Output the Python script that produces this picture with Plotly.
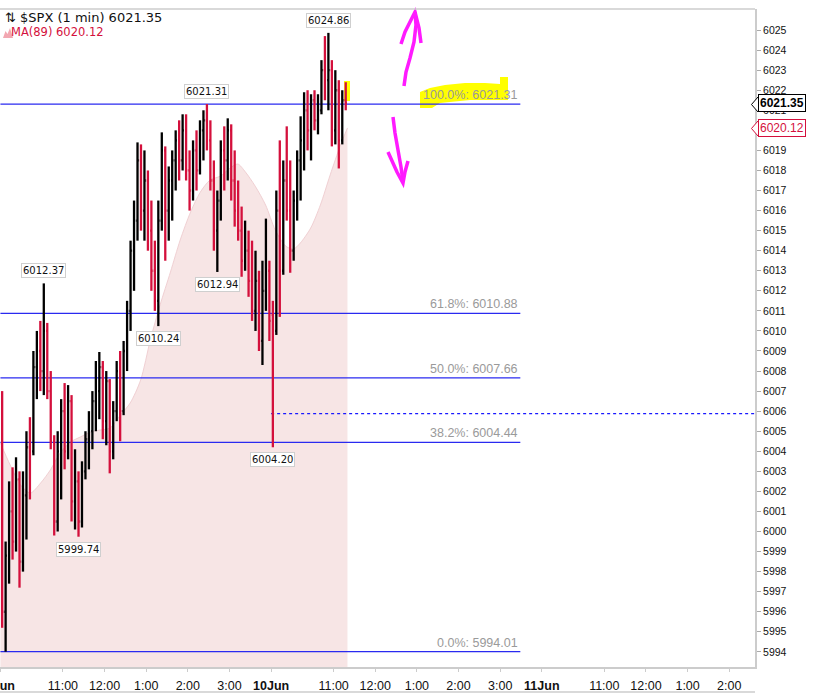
import plotly.graph_objects as go

# ---------------- data (5-minute OHLC) ----------------
# minute index counts trading minutes from 9 Jun 09:30 (390 per session)
bar_minutes = [5 * k + 2.5 for k in range(100)]
opens = [6004.6, 5996.0, 5998.8, 6001.0, 5999.5, 6002.6, 5998.5, 6001.8, 6004.2, 6004.0,
         6008.2, 6009.0, 6008.0, 6010.0, 6007.0, 6004.5, 6000.5, 6004.0, 6006.0, 6004.0,
         6006.5, 6001.5, 6002.5, 6000.5, 6003.0, 6004.6, 6005.0, 6006.5, 6007.0, 6008.2,
         6005.5, 6007.5, 6004.0, 6006.0, 6008.0, 6006.0, 6009.0, 6011.0, 6014.0, 6015.5,
         6018.5, 6016.0, 6017.5, 6015.0, 6013.0, 6011.5, 6015.5, 6019.0, 6016.0, 6017.5,
         6018.5, 6019.5, 6018.5, 6020.0, 6018.0, 6017.0, 6019.0, 6018.0, 6020.0, 6020.5,
         6019.5, 6017.5, 6015.0, 6016.5, 6019.0, 6018.5, 6020.0, 6017.5, 6016.0, 6015.0,
         6013.5, 6014.0, 6012.5, 6011.0, 6012.5, 6009.5, 6012.0, 6013.0, 6010.8, 6010.0,
         6016.0, 6013.0, 6017.5, 6016.0, 6014.0, 6016.5, 6018.5, 6019.5, 6021.0, 6020.0,
         6021.5, 6020.5, 6021.0, 6023.0, 6022.5, 6023.0, 6020.0, 6022.0, 6019.5, 6021.5]
highs = [6007.0, 5999.5, 6002.5, 6003.2, 6003.7, 6003.0, 6003.0, 6005.0, 6005.7, 6009.0,
         6010.0, 6010.5, 6012.37, 6010.4, 6008.0, 6004.8, 6005.0, 6006.6, 6007.4, 6007.3,
         6006.8, 6004.1, 6003.0, 6003.5, 6005.0, 6006.0, 6007.0, 6008.5, 6008.95, 6008.5,
         6008.0, 6007.6, 6006.5, 6008.5, 6009.0, 6009.5, 6011.5, 6014.5, 6016.5, 6019.4,
         6019.3, 6019.0, 6018.0, 6016.5, 6014.5, 6016.5, 6019.9, 6019.2, 6018.2, 6019.0,
         6020.0, 6020.5, 6020.8, 6020.8, 6019.0, 6019.5, 6020.0, 6020.5, 6021.0, 6021.31,
         6020.5, 6018.5, 6017.0, 6019.5, 6020.2, 6020.6, 6020.3, 6019.0, 6017.5, 6016.2,
         6015.5, 6015.0, 6014.5, 6014.0, 6013.0, 6013.5, 6015.6, 6013.5, 6011.5, 6017.0,
         6019.5, 6018.5, 6020.2, 6018.5, 6017.0, 6019.0, 6020.7, 6021.9, 6022.0, 6021.8,
         6022.0, 6021.8, 6023.5, 6024.7, 6024.86, 6023.5, 6023.0, 6022.5, 6022.0, 6022.4]
lows = [5995.2, 5994.01, 5997.4, 5998.6, 5999.0, 5997.2, 5998.0, 5999.6, 6001.6, 6003.8,
        6006.6, 6007.0, 6006.8, 6006.6, 6004.1, 5999.8, 6000.0, 6001.6, 6003.1, 6003.6,
        6000.5, 6000.1, 5999.74, 6000.2, 6002.6, 6003.1, 6004.1, 6005.0, 6005.6, 6004.6,
        6004.3, 6002.9, 6003.6, 6005.5, 6004.5, 6005.8, 6008.0, 6010.0, 6012.0, 6014.5,
        6015.0, 6014.5, 6014.0, 6012.0, 6011.0, 6010.24, 6015.0, 6013.5, 6014.5, 6015.5,
        6017.0, 6017.5, 6018.0, 6017.5, 6016.0, 6016.5, 6017.0, 6017.8, 6018.5, 6019.0,
        6017.0, 6014.0, 6012.94, 6015.5, 6017.0, 6017.5, 6016.5, 6015.2, 6014.5, 6012.7,
        6013.0, 6011.7, 6010.5, 6010.0, 6009.0, 6008.3, 6011.0, 6009.5, 6004.20, 6009.8,
        6010.7, 6012.8, 6015.5, 6012.9, 6013.5, 6015.5, 6016.5, 6018.0, 6019.0, 6018.5,
        6020.0, 6019.8, 6020.8, 6021.5, 6021.0, 6019.2, 6019.3, 6018.1, 6019.3, 6021.0]
closes = [5996.0, 5998.8, 6001.0, 5999.5, 6002.6, 5998.5, 6001.8, 6004.2, 6004.0, 6008.2,
          6009.0, 6008.0, 6010.0, 6007.0, 6004.5, 6000.5, 6004.0, 6006.0, 6004.0, 6006.5,
          6001.5, 6002.5, 6000.5, 6003.0, 6004.6, 6005.0, 6006.5, 6007.0, 6008.2, 6005.5,
          6007.5, 6004.0, 6006.0, 6008.0, 6006.0, 6009.0, 6011.0, 6014.0, 6015.5, 6018.5,
          6016.0, 6017.5, 6015.0, 6013.0, 6011.5, 6015.5, 6019.0, 6016.0, 6017.5, 6018.5,
          6019.5, 6018.5, 6020.0, 6018.0, 6017.0, 6019.0, 6018.0, 6020.0, 6020.5, 6019.5,
          6017.5, 6015.0, 6016.5, 6019.0, 6018.5, 6020.0, 6017.5, 6016.0, 6015.0, 6013.5,
          6014.0, 6012.5, 6011.0, 6012.5, 6009.5, 6012.0, 6013.0, 6010.5, 6010.0, 6016.0,
          6013.0, 6017.5, 6016.0, 6014.0, 6016.5, 6018.5, 6019.5, 6021.0, 6020.0, 6021.5,
          6020.5, 6021.0, 6023.0, 6022.5, 6023.0, 6020.0, 6022.0, 6019.5, 6021.5, 6021.35]

# MA(89)
ma_minutes = [0, 14, 29, 43, 58, 72, 86, 101, 115, 130, 144, 158, 173, 187, 202, 216, 230,
              245, 259, 274, 288, 302, 317, 331, 342, 353, 367, 382, 396, 411, 422, 432,
              447, 461, 475, 490, 500]
ma_values = [6004.41, 6003.32, 6002.32, 6001.92, 6002.42, 6003.07, 6003.91, 6004.46, 6004.71,
             6004.96, 6005.06, 6005.16, 6005.81, 6006.41, 6007.55, 6009.55, 6011.29, 6012.94,
             6014.53, 6015.93, 6016.92, 6017.52, 6017.72, 6018.12, 6018.32, 6017.92, 6017.22,
             6016.28, 6015.03, 6014.23, 6014.08, 6014.38, 6015.13, 6016.28, 6017.77, 6019.27,
             6020.12]

fib_labels = ["0.0%", "38.2%", "50.0%", "61.8%", "100.0%"]
fib_values = [5994.01, 6004.44, 6007.66, 6010.88, 6021.31]
prev_close = 6005.88
last_price = 6021.35
ma_last = 6020.12

callout_highs = [6012.37, 6021.31, 6024.86]
callout_lows = [5999.74, 6010.24, 6012.94, 6004.20]

tick_vals = [0, 90, 150, 210, 270, 330, 390, 480, 540, 600, 660, 720, 780, 870, 930, 990, 1050]
tick_text = ["<b>9Jun</b>", "11:00", "12:00", "1:00", "2:00", "3:00", "<b>10Jun</b>",
             "11:00", "12:00", "1:00", "2:00", "3:00", "<b>11Jun</b>",
             "11:00", "12:00", "1:00", "2:00"]
y_ticks = list(range(5994, 6026))

# ---------------- figure ----------------
X_RANGE = [-0.6, 1087.1]
Y_RANGE = [5993.245, 6026.05]
FIB_END = 749
TICK_HALF = 1.6          # OHLC open/close tick length in minutes
PLOT_W, PLOT_B, PLOT_H = 755, 667, 658
UP, DOWN = "#000000", "#d4103c"


def PX(x):
    return x / PLOT_W


def PY(y):
    return (PLOT_B - y) / PLOT_H


def path(pts, close=False):
    s = "M " + " L ".join(f"{PX(x):.5f},{PY(y):.5f}" for x, y in pts)
    return s + (" Z" if close else "")


fig = go.Figure()

# MA(89) shaded area
fig.add_trace(go.Scatter(x=ma_minutes, y=ma_values, mode="lines", fill="tozeroy",
                         fillcolor="#f7e5e5",
                         line=dict(color="#f0d0d3", width=1, shape="spline", smoothing=0.8),
                         hoverinfo="skip", showlegend=False))

# Fibonacci lines
for lab, v in zip(fib_labels, fib_values):
    fig.add_trace(go.Scatter(x=[0, FIB_END], y=[v, v], mode="lines",
                             line=dict(color="#2a2af0", width=1.3),
                             hoverinfo="skip", showlegend=False))
# previous close dashed
fig.add_trace(go.Scatter(x=[390, X_RANGE[1]], y=[prev_close, prev_close], mode="lines",
                         line=dict(color="#1a1aff", width=1.2, dash="3px,3px"),
                         hoverinfo="skip", showlegend=False))

# price bars (OHLC drawn as line segments so they sit above the shaded MA)
for want_up, col in ((True, UP), (False, DOWN)):
    xs, ys = [], []
    for t, o, h, l, c in zip(bar_minutes, opens, highs, lows, closes):
        if (c >= o) != want_up:
            continue
        xs += [t, t, None, t - TICK_HALF, t, None, t, t + TICK_HALF, None]
        ys += [l, h, None, o, o, None, c, c, None]
    fig.add_trace(go.Scatter(x=xs, y=ys, mode="lines", line=dict(color=col, width=2.3),
                             connectgaps=False, hoverinfo="skip", showlegend=False))

ann = []
# fib labels
for lab, v in zip(fib_labels, fib_values):
    ann.append(dict(x=FIB_END, y=v, xref="x", yref="y", text=f"{lab}: {v:.2f}",
                    showarrow=False, xanchor="right", yanchor="bottom", yshift=0,
                    font=dict(family="Liberation Sans", size=12.5, color="#9a9a9a")))

# callouts
box = dict(showarrow=False, bgcolor="white", bordercolor="#cfcfcf", borderwidth=1, borderpad=1,
           font=dict(family="DejaVu Sans", size=10, color="#111"))
for v in callout_highs:
    k = highs.index(v)
    ann.append(dict(x=bar_minutes[k], y=v, xref="x", yref="y", text=f"{v:.2f}",
                    yanchor="bottom", yshift=5, **box))
for v in callout_lows:
    k = lows.index(v)
    ann.append(dict(x=bar_minutes[k], y=v, xref="x", yref="y", text=f"{v:.2f}",
                    yanchor="top", yshift=-5, **box))

# legend text
ann.append(dict(x=PX(3), y=PY(17), xref="paper", yref="paper", xanchor="left", yanchor="middle",
                text=f"⇅ $SPX (1 min) {last_price:.2f}", showarrow=False,
                font=dict(family="DejaVu Sans", size=13, color="#111")))
ann.append(dict(x=PX(9), y=PY(32.5), xref="paper", yref="paper", xanchor="left",
                yanchor="middle", text=f"MA(89) {ma_last:.2f}", showarrow=False,
                font=dict(family="DejaVu Sans", size=11.5, color=DOWN)))

# right-axis price tags
ann.append(dict(x=1, y=last_price, xref="paper", yref="y", xanchor="left", xshift=3,
                text=f"<b>{last_price:.2f}</b>", showarrow=False, bgcolor="white",
                bordercolor="#000", borderwidth=1, borderpad=1,
                font=dict(family="Liberation Sans", size=12, color="#000")))
ann.append(dict(x=1, y=ma_last, xref="paper", yref="y", xanchor="left", xshift=3,
                text=f"{ma_last:.2f}", showarrow=False, bgcolor="white",
                bordercolor=DOWN, borderwidth=1, borderpad=1,
                font=dict(family="Liberation Sans", size=12, color=DOWN)))

shapes = []
# hand-drawn yellow highlights
shapes.append(dict(type="path", xref="paper", yref="paper", layer="below",
                   path=path([(420, 92), (430, 88), (445, 85), (465, 83), (485, 83),
                              (500, 84), (500, 77), (508, 77), (508, 100), (470, 100),
                              (440, 103), (432, 108), (420, 108)], close=True),
                   fillcolor="#ffff00", line=dict(width=0)))
shapes.append(dict(type="rect", xref="paper", yref="paper", layer="below",
                   x0=PX(344), x1=PX(350), y0=PY(101), y1=PY(81),
                   fillcolor="#ffff00", line=dict(width=0)))
# magenta arrows
mag = dict(color="#ff1aff", width=3.5)
shapes.append(dict(type="path", xref="paper", yref="paper",
                   path=path([(404, 86), (406, 72), (410, 58), (414, 42), (416, 25), (415, 12)]),
                   line=mag))
shapes.append(dict(type="path", xref="paper", yref="paper",
                   path=path([(401, 44), (405, 32), (415, 12), (419, 28), (421, 43)]), line=mag))
shapes.append(dict(type="path", xref="paper", yref="paper",
                   path=path([(393, 117), (395, 133), (398, 150), (401, 167), (403, 182)]),
                   line=mag))
shapes.append(dict(type="path", xref="paper", yref="paper",
                   path=path([(388, 152), (397, 172), (403, 183), (405, 172), (408, 161)]),
                   line=mag))
# tag pointers
shapes.append(dict(type="path", xref="paper", yref="paper",
                   path=path([(758, 97), (751.5, 104.5), (758, 112)]),
                   line=dict(color="#000", width=1), fillcolor="white"))
shapes.append(dict(type="path", xref="paper", yref="paper",
                   path=path([(758, 121), (751.5, 128.5), (758, 136)]),
                   line=dict(color=DOWN, width=1), fillcolor="white"))
# MA legend icon
shapes.append(dict(type="path", xref="paper", yref="paper",
                   path=path([(3, 38), (5.5, 31), (7.5, 34), (10, 28), (13, 38)], close=True),
                   fillcolor="#f2a7b1", line=dict(width=0)))
# frame lines
shapes.append(dict(type="line", xref="paper", yref="paper", x0=0, x1=1, y0=1, y1=1,
                   line=dict(color="#cccccc", width=1.5)))
shapes.append(dict(type="line", xref="paper", yref="paper", x0=0, x1=1, y0=PY(692),
                   y1=PY(692), line=dict(color="#cccccc", width=1.5)))

fig.update_layout(
    width=830, height=694,
    margin=dict(l=0, r=75, t=9, b=27, autoexpand=False),
    paper_bgcolor="white", plot_bgcolor="white",
    showlegend=False,
    annotations=ann, shapes=shapes,
    xaxis=dict(range=X_RANGE, tickmode="array", tickvals=tick_vals, ticktext=tick_text,
               automargin=False,
               showgrid=False, zeroline=False, showline=True, linecolor="#cccccc", linewidth=1.5,
               ticks="outside", ticklen=3, tickcolor="#cccccc", ticklabelstandoff=3,
               ticklabeloverflow="allow",
               tickfont=dict(family="Liberation Sans", size=12.5, color="#111")),
    yaxis=dict(range=Y_RANGE, side="right", tickmode="array", tickvals=y_ticks,
               automargin=False,
               ticktext=[str(v) for v in y_ticks], showgrid=False, zeroline=False,
               showline=True, linecolor="#cccccc", linewidth=2,
               ticks="outside", ticklen=4, tickcolor="#aaaaaa",
               tickfont=dict(family="Liberation Sans", size=10.5, color="#111")),
)

fig.write_html("out.html", config={"displayModeBar": False},
               post_script="document.body.style.margin='0';document.body.style.overflow='hidden';")
